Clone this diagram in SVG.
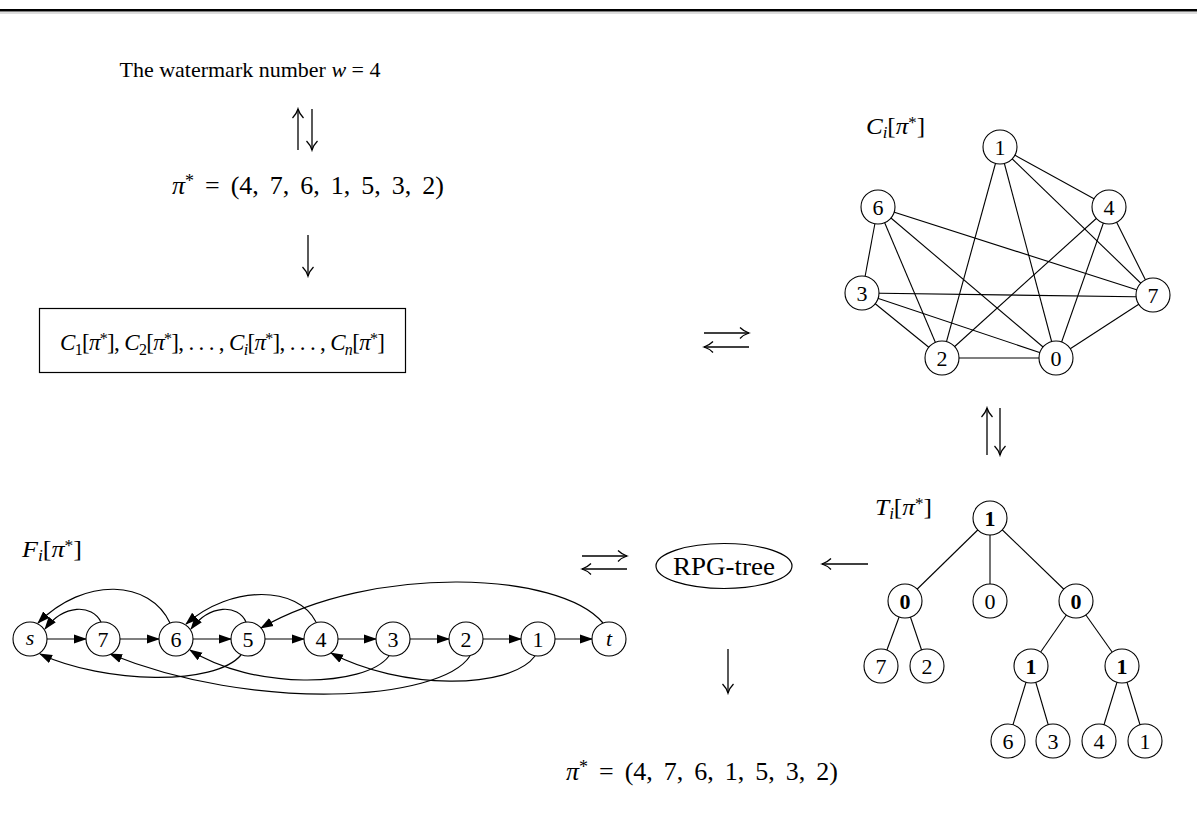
<svg xmlns="http://www.w3.org/2000/svg" width="1197" height="814" viewBox="0 0 1197 814">
<style>
text{font-family:"Liberation Serif","Times New Roman",serif;fill:#000}
.pm{font-size:26px;word-spacing:4.5px}
.lab{font-size:24px}
.n{font-size:22px;text-anchor:middle}
.b{font-weight:bold}
.i{font-style:italic}
circle{fill:#fff;stroke:#000;stroke-width:1.1}
.e line{stroke:#000;stroke-width:1.1}
.ar{stroke:#000;stroke-width:1.3;fill:none;marker-end:url(#cm)}
.fa{stroke:#000;stroke-width:1.2;fill:none;marker-end:url(#tri)}
</style>
<defs>
<marker id="cm" markerWidth="12" markerHeight="12" refX="10" refY="6" orient="auto" markerUnits="userSpaceOnUse" viewBox="0 0 12 12">
<path d="M1,0.5 Q5,4.5 10,6 Q5,7.5 1,11.5" fill="none" stroke="#000" stroke-width="1.3"/>
</marker>
<marker id="tri" markerWidth="13" markerHeight="10" refX="12" refY="5" orient="auto" markerUnits="userSpaceOnUse" viewBox="0 0 13 10">
<path d="M0,0.5 L13,5 L0,9.5 Z" fill="#000"/>
</marker>
</defs>
<rect width="1197" height="814" fill="#fff"/>
<rect x="0" y="9" width="1197" height="2.5" fill="#000"/>
<line x1="0" y1="13" x2="1197" y2="13" stroke="#bbb" stroke-width="1"/>

<!-- left column texts -->
<g id="watermark">
<text x="250" y="77" font-size="22" text-anchor="middle">The watermark number <tspan class="i">w</tspan> = 4</text>
</g>
<g id="perm-top">
<text class="pm" x="172" y="194"><tspan class="i">π</tspan><tspan font-size="18" dy="-7">*</tspan><tspan dy="7"> = (4, 7, 6, 1, 5, 3, 2)</tspan></text>
</g>
<g id="cycles-box">
<rect x="39.5" y="308.5" width="366" height="64" fill="#fff" stroke="#000" stroke-width="1.2"/>
<text x="60" y="350" font-size="23" textLength="325" lengthAdjust="spacing"><tspan class="i">C</tspan><tspan font-size="16" dy="5">1</tspan><tspan dy="-5">[</tspan><tspan class="i">π</tspan><tspan font-size="16" dy="-6">*</tspan><tspan dy="6">], </tspan><tspan class="i">C</tspan><tspan font-size="16" dy="5">2</tspan><tspan dy="-5">[</tspan><tspan class="i">π</tspan><tspan font-size="16" dy="-6">*</tspan><tspan dy="6">], . . . , </tspan><tspan class="i">C</tspan><tspan font-size="16" dy="5" class="i">i</tspan><tspan dy="-5">[</tspan><tspan class="i">π</tspan><tspan font-size="16" dy="-6">*</tspan><tspan dy="6">], . . . , </tspan><tspan class="i">C</tspan><tspan font-size="16" dy="5" class="i">n</tspan><tspan dy="-5">[</tspan><tspan class="i">π</tspan><tspan font-size="16" dy="-6">*</tspan><tspan dy="6">]</tspan></text>
</g>

<!-- C_i graph -->
<g id="Ci-label"><text class="lab" x="866" y="134" textLength="59" lengthAdjust="spacingAndGlyphs"><tspan class="i">C</tspan><tspan font-size="16" dy="4" class="i">i</tspan><tspan dy="-4">[</tspan><tspan class="i">π</tspan><tspan font-size="16" dy="-6">*</tspan><tspan dy="6">]</tspan></text></g>
<g id="Ci-edges" class="e">
<line x1="1000" y1="147" x2="1109" y2="207"/>
<line x1="1000" y1="147" x2="1153" y2="295"/>
<line x1="1000" y1="147" x2="1056" y2="358"/>
<line x1="1000" y1="147" x2="942" y2="358"/>
<line x1="878" y1="207" x2="862" y2="293"/>
<line x1="878" y1="207" x2="942" y2="358"/>
<line x1="878" y1="207" x2="1056" y2="358"/>
<line x1="878" y1="207" x2="1153" y2="295"/>
<line x1="1109" y1="207" x2="942" y2="358"/>
<line x1="1109" y1="207" x2="1056" y2="358"/>
<line x1="1109" y1="207" x2="1153" y2="295"/>
<line x1="862" y1="293" x2="1153" y2="297"/>
<line x1="862" y1="293" x2="942" y2="358"/>
<line x1="862" y1="293" x2="1056" y2="358"/>
<line x1="942" y1="358" x2="1056" y2="358"/>
<line x1="1153" y1="295" x2="1056" y2="358"/>
</g>
<g id="c1"><circle cx="1000" cy="147" r="17"/><text class="n" x="1000" y="155">1</text></g>
<g id="c6"><circle cx="878" cy="207" r="17"/><text class="n" x="878" y="215">6</text></g>
<g id="c4"><circle cx="1109" cy="207" r="17"/><text class="n" x="1109" y="215">4</text></g>
<g id="c3"><circle cx="862" cy="293" r="17"/><text class="n" x="862" y="301">3</text></g>
<g id="c7"><circle cx="1153" cy="295" r="17"/><text class="n" x="1153" y="303">7</text></g>
<g id="c2"><circle cx="942" cy="358" r="17"/><text class="n" x="942" y="366">2</text></g>
<g id="c0"><circle cx="1056" cy="358" r="17"/><text class="n" x="1056" y="366">0</text></g>

<!-- T_i tree -->
<g id="Ti-label"><text class="lab" x="875" y="515" textLength="57" lengthAdjust="spacingAndGlyphs"><tspan class="i">T</tspan><tspan font-size="16" dy="4" class="i">i</tspan><tspan dy="-4">[</tspan><tspan class="i">π</tspan><tspan font-size="16" dy="-6">*</tspan><tspan dy="6">]</tspan></text></g>
<g id="Ti-edges" class="e">
<line x1="990" y1="518" x2="905" y2="601"/>
<line x1="990" y1="518" x2="990" y2="601"/>
<line x1="990" y1="518" x2="1076" y2="601"/>
<line x1="905" y1="601" x2="881" y2="666"/>
<line x1="905" y1="601" x2="927" y2="666"/>
<line x1="1076" y1="601" x2="1031" y2="666"/>
<line x1="1076" y1="601" x2="1122" y2="666"/>
<line x1="1031" y1="666" x2="1008" y2="741"/>
<line x1="1031" y1="666" x2="1053" y2="741"/>
<line x1="1122" y1="666" x2="1099" y2="741"/>
<line x1="1122" y1="666" x2="1145" y2="741"/>
</g>
<g id="t-root"><circle cx="990" cy="518" r="17"/><text class="n b" x="990" y="526">1</text></g>
<g id="t-0a"><circle cx="905" cy="601" r="17"/><text class="n b" x="905" y="609">0</text></g>
<g id="t-0b"><circle cx="990" cy="601" r="17"/><text class="n" x="990" y="609">0</text></g>
<g id="t-0c"><circle cx="1076" cy="601" r="17"/><text class="n b" x="1076" y="609">0</text></g>
<g id="t-7"><circle cx="881" cy="666" r="17"/><text class="n" x="881" y="674">7</text></g>
<g id="t-2"><circle cx="927" cy="666" r="17"/><text class="n" x="927" y="674">2</text></g>
<g id="t-1a"><circle cx="1031" cy="666" r="17"/><text class="n b" x="1031" y="674">1</text></g>
<g id="t-1b"><circle cx="1122" cy="666" r="17"/><text class="n b" x="1122" y="674">1</text></g>
<g id="t-6"><circle cx="1008" cy="741" r="17"/><text class="n" x="1008" y="749">6</text></g>
<g id="t-3"><circle cx="1053" cy="741" r="17"/><text class="n" x="1053" y="749">3</text></g>
<g id="t-4"><circle cx="1099" cy="741" r="17"/><text class="n" x="1099" y="749">4</text></g>
<g id="t-1"><circle cx="1145" cy="741" r="17"/><text class="n" x="1145" y="749">1</text></g>

<!-- RPG-tree -->
<g id="rpg">
<ellipse cx="724" cy="566" rx="68" ry="22.5" fill="#fff" stroke="#000" stroke-width="1.2"/>
<text x="673" y="575" font-size="26" textLength="102" lengthAdjust="spacingAndGlyphs">RPG-tree</text>
</g>
<g id="perm-bottom">
<text class="pm" x="566" y="780"><tspan class="i">π</tspan><tspan font-size="18" dy="-7">*</tspan><tspan dy="7"> = (4, 7, 6, 1, 5, 3, 2)</tspan></text>
</g>

<!-- F_i graph -->
<g id="Fi-label"><text class="lab" x="22" y="557" textLength="60" lengthAdjust="spacingAndGlyphs"><tspan class="i">F</tspan><tspan font-size="16" dy="4" class="i">i</tspan><tspan dy="-4">[</tspan><tspan class="i">π</tspan><tspan font-size="16" dy="-6">*</tspan><tspan dy="6">]</tspan></text></g>

<g id="connectors">
<!-- flow arrows -->
<line class="ar" x1="298" y1="150" x2="298" y2="109"/>
<line class="ar" x1="312" y1="109" x2="312" y2="150"/>
<line class="ar" x1="308" y1="235" x2="308" y2="276"/>
<line class="ar" x1="704" y1="333" x2="749" y2="333"/>
<line class="ar" x1="749" y1="347" x2="704" y2="347"/>
<line class="ar" x1="987" y1="455" x2="987" y2="408"/>
<line class="ar" x1="1000" y1="408" x2="1000" y2="455"/>
<line class="ar" x1="582" y1="556" x2="627" y2="556"/>
<line class="ar" x1="627" y1="569" x2="582" y2="569"/>
<line class="ar" x1="868" y1="564" x2="822" y2="564"/>
<line class="ar" x1="728" y1="649" x2="728" y2="693"/>
<!-- F graph forward -->
<line class="fa" x1="47" y1="639" x2="86" y2="639"/>
<line class="fa" x1="120" y1="639" x2="159" y2="639"/>
<line class="fa" x1="193" y1="639" x2="231" y2="639"/>
<line class="fa" x1="265" y1="639" x2="304" y2="639"/>
<line class="fa" x1="338" y1="639" x2="376" y2="639"/>
<line class="fa" x1="410" y1="639" x2="449" y2="639"/>
<line class="fa" x1="483" y1="639" x2="521" y2="639"/>
<line class="fa" x1="555" y1="639" x2="592" y2="639"/>
<!-- F graph back arcs above -->
<path class="fa" d="M170,623 C150,580 85,576 38,623"/>
<path class="fa" d="M101,622 C92,604 64,604 45,629"/>
<path class="fa" d="M246,622 C238,604 210,604 191,629"/>
<path class="fa" d="M316,622 C298,586 232,584 186,624"/>
<path class="fa" d="M603,623 C560,571 372,564 261,628"/>
<!-- F graph back arcs below -->
<path class="fa" d="M241,655 C215,686 105,684 40,654"/>
<path class="fa" d="M389,656 C365,688 252,690 190,650"/>
<path class="fa" d="M470,656 C440,702 252,712 110,654"/>
<path class="fa" d="M535,656 C510,690 400,690 331,653"/>
</g>

<g id="f-s"><circle cx="30" cy="639" r="17"/><text class="n i" x="30" y="645">s</text></g>
<g id="f-7"><circle cx="103" cy="639" r="17"/><text class="n" x="103" y="647">7</text></g>
<g id="f-6"><circle cx="176" cy="639" r="17"/><text class="n" x="176" y="647">6</text></g>
<g id="f-5"><circle cx="248" cy="639" r="17"/><text class="n" x="248" y="647">5</text></g>
<g id="f-4"><circle cx="321" cy="639" r="17"/><text class="n" x="321" y="647">4</text></g>
<g id="f-3"><circle cx="393" cy="639" r="17"/><text class="n" x="393" y="647">3</text></g>
<g id="f-2"><circle cx="466" cy="639" r="17"/><text class="n" x="466" y="647">2</text></g>
<g id="f-1"><circle cx="538" cy="639" r="17"/><text class="n" x="538" y="647">1</text></g>
<g id="f-t"><circle cx="609" cy="639" r="17"/><text class="n i" x="609" y="646">t</text></g>
</svg>
